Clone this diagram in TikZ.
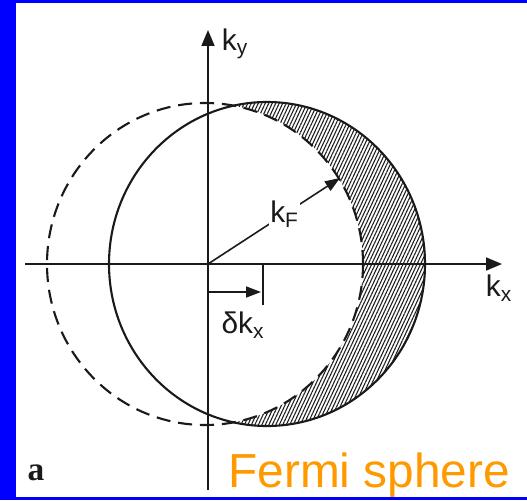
\documentclass[tikz,border=0pt]{standalone}
\usepackage{fontspec}
\setmainfont{Liberation Sans}
\newfontfamily\serifbold{Liberation Serif}
\usetikzlibrary{arrows.meta,positioning,calc,patterns.meta}
\definecolor{FrameBlue}{HTML}{0000FF}
\definecolor{TitleOrange}{HTML}{FF9900}
\definecolor{Ink}{HTML}{1A1A1A}

\begin{document}
\begin{tikzpicture}[
		x=0.02cm,y=-0.02cm,
		ax/.style={-{Triangle[length=3.2mm,width=2.6mm]},line width=1pt,Ink},
		arr/.style={-{Triangle[length=3mm,width=2.2mm]},line width=0.9pt,Ink},
		rim/.style={line width=1.2pt,Ink},
		lbl/.style={font=\fontsize{17}{18}\selectfont,Ink,inner sep=1pt}
	]
	% frame
	\fill[FrameBlue] (0,0) rectangle (527,500);
	\fill[white] (16,3) rectangle (527,497);
	\useasboundingbox (0,0) rectangle (527,500);
	\coordinate (O) at (205,264);
	\coordinate (S) at (267,264);
	\coordinate (orig) at (208,264);
	% hatched crescent
	\begin{scope}
		\clip (S) ellipse [x radius=158,y radius=162];
		\fill[pattern={Lines[angle=65,distance=1.8pt,line width=0.6pt]},pattern color=Ink,even odd rule]
			(S) ellipse [x radius=158,y radius=162] (O) ellipse [x radius=158,y radius=161];
	\end{scope}
	\draw[rim,dash pattern=on 8pt off 4.5pt] (O) ellipse [x radius=158,y radius=161];
	\draw[rim] (S) ellipse [x radius=158,y radius=162];
	% axes
	\coordinate (xl) at (25,264);
	\coordinate (xr) at (502,264);
	\coordinate (yb) at (208,490);
	\coordinate (yt) at (208,30);
	\draw[ax] (xl) -- (xr);
	\draw[ax] (yb) -- (yt);
	\node[lbl] (ky) at (235,44) {k\textsubscript{y}};
	\node[lbl] (kx) at (499,288) {k\textsubscript{x}};
	% Fermi wave vector
	\coordinate (kFtip) at (340,178);
	\draw[arr] (orig) -- node[lbl,fill=white,pos=0.58,inner sep=0.5pt] (kF) {k\textsubscript{F}} (kFtip);
	% shift
	\coordinate (d0) at (208,292);
	\coordinate (d1) at (261,292);
	\coordinate (t0) at (263,264);
	\coordinate (t1) at (263,305);
	\draw[arr] (d0) -- (d1);
	\draw[line width=0.9pt,Ink] (t0) -- (t1);
	\node[lbl] (dk) at (243,325) {δk\textsubscript{x}};
	% captions
	\node[font=\serifbold\bfseries\fontsize{19}{19}\selectfont,Ink] (a) at (36,473) {a};
	\node[font=\fontsize{27.2}{27}\selectfont,TitleOrange,anchor=base west,inner sep=0pt] (title) at (228,487) {Fermi sphere};
\end{tikzpicture}
\end{document}
